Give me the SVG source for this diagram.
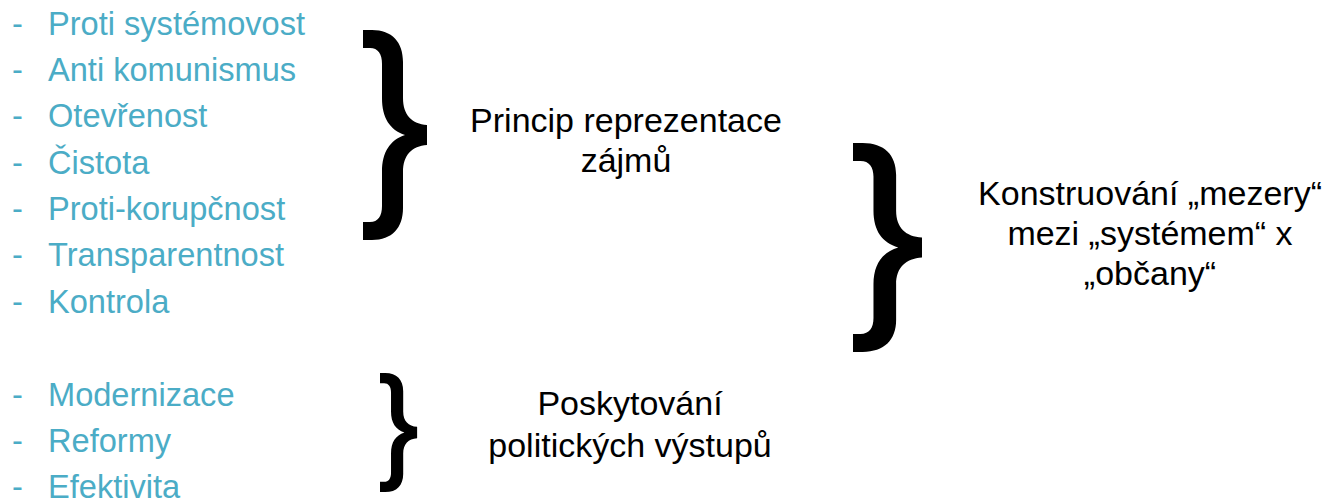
<svg xmlns="http://www.w3.org/2000/svg" width="1343" height="499" viewBox="0 0 1343 499">
<style>
.item{font-family:"Liberation Sans",Arial,sans-serif;font-size:32.6px;fill:#4BACC6}
.lbl{font-family:"Liberation Sans",Arial,sans-serif;font-size:34px;fill:#000;text-anchor:middle}
.brace{fill:#000}
</style>
<defs>
<path id="br" d="M 0 0 L 9 0 C 29 0 40 12 40 32 L 40 68 C 40 85 49 94 64 95 L 64 115 C 49 116 40 125 40 142 L 40 178 C 40 198 29 210 9 210 L 0 210 L 0 192 L 7 192 C 15 192 19 186 19 176 L 19 142 C 19 122 27 110 42 105 C 27 100 19 88 19 68 L 19 34 C 19 24 15 18 7 18 L 0 18 Z"/>
</defs>
<rect width="1343" height="499" fill="#fff"/>
<g id="list-top">
<text class="item" x="12" y="35">-</text><text class="item" x="48" y="35">Proti systémovost</text>
<text class="item" x="12" y="81">-</text><text class="item" x="48" y="81">Anti komunismus</text>
<text class="item" x="12" y="127">-</text><text class="item" x="48" y="127">Otevřenost</text>
<text class="item" x="12" y="174">-</text><text class="item" x="48" y="174">Čistota</text>
<text class="item" x="12" y="220">-</text><text class="item" x="48" y="220">Proti-korupčnost</text>
<text class="item" x="12" y="266">-</text><text class="item" x="48" y="266">Transparentnost</text>
<text class="item" x="12" y="313">-</text><text class="item" x="48" y="313">Kontrola</text>
</g>
<g id="list-bottom">
<text class="item" x="12" y="406">-</text><text class="item" x="48" y="406">Modernizace</text>
<text class="item" x="12" y="452">-</text><text class="item" x="48" y="452">Reformy</text>
<text class="item" x="12" y="498">-</text><text class="item" x="48" y="498">Efektivita</text>
</g>
<g id="connectors">
<use href="#br" class="brace" transform="translate(363,30)"/>
<use href="#br" class="brace" transform="translate(853,143) scale(1.078,0.995)"/>
<use href="#br" class="brace" transform="translate(380,373) scale(0.58,0.567)"/>
</g>
<g id="node-princip">
<text class="lbl" x="626" y="132">Princip reprezentace</text>
<text class="lbl" x="626" y="172">zájmů</text>
</g>
<g id="node-poskytovani">
<text class="lbl" x="630" y="415">Poskytování</text>
<text class="lbl" x="630" y="457">politických výstupů</text>
</g>
<g id="node-konstruovani">
<text class="lbl" x="1150" y="205">Konstruování „mezery“</text>
<text class="lbl" x="1150" y="245">mezi „systémem“ x</text>
<text class="lbl" x="1150" y="285">„občany“</text>
</g>
</svg>
